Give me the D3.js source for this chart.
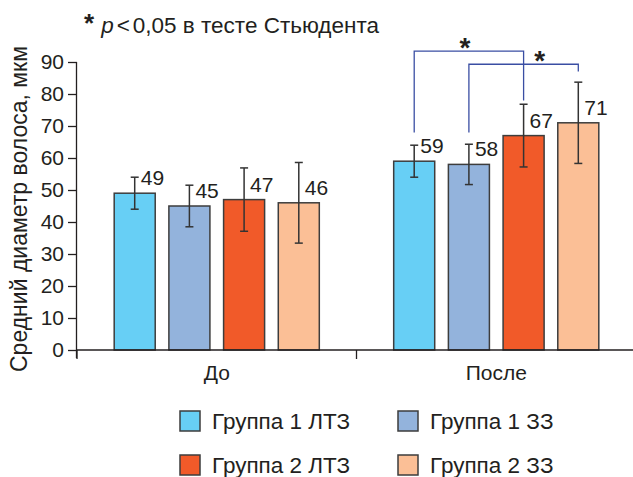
<!DOCTYPE html>
<html>
<head>
<meta charset="utf-8">
<script src="https://cdn.jsdelivr.net/npm/d3@7"></script>
<style>
  body { margin: 0; background: #fff; }
  text { font-family: 'Liberation Sans', Arial, sans-serif; fill: #231f20; }
</style>
</head>
<body>
<div id="graf"></div>
<script>
// datos
const periodos = ['До', 'После']
const grupos = ['Группа 1 ЛТЗ', 'Группа 1 ЗЗ', 'Группа 2 ЛТЗ', 'Группа 2 ЗЗ']
const mediasAntes = [49, 45, 47, 46]
const mediasDespues = [59, 58, 67, 71]
const errAntes = [5, 6.5, 9.9, 12.6]
const errDespues = [5, 6.3, 9.8, 12.7]
const yTicks = [0, 10, 20, 30, 40, 50, 60, 70, 80, 90]
const colores = ['#67cff5', '#93b3dc', '#f15a29', '#fbbf96']
// corchetes de significancia (periodo 'После'): barras unidas, altura y pies en unidades del eje
const sigPares = [[0, 2], [1, 3]]
const sigAltura = [93.4, 89.3]
const sigPies = [[68, 78], [68, 87]]

const anchoTotal = 633
const altoTotal = 477

const svg = d3.select('#graf')
  .append('svg')
  .attr('width', anchoTotal)
  .attr('height', altoTotal)

const margin = { top: 62, left: 77 }

const y = d3.scaleLinear()
  .domain([0, 90])
  .range([350, 62])

const x = d3.scaleBand()
  .domain(periodos)
  .range([77, 636])

const xSub = d3.scaleBand()
  .domain(d3.range(grupos.length))
  .range([0, x.bandwidth()])
  .paddingInner(0.25)
  .paddingOuter(0.68)

const datos = []
periodos.forEach((p, i) => {
  const medias = i === 0 ? mediasAntes : mediasDespues
  const errs = i === 0 ? errAntes : errDespues
  grupos.forEach((g, j) => {
    datos.push({ periodo: p, grupo: j, valor: medias[j], err: errs[j] })
  })
})

const cx = d => x(d.periodo) + xSub(d.grupo) + xSub.bandwidth() / 2

// eje Y
svg.append('g')
  .attr('transform', `translate(${margin.left}, 0)`)
  .call(d3.axisLeft(y).tickValues(yTicks).tickSize(9).tickPadding(4))
  .call(g => g.select('.domain').attr('d', `M-0.5,${y(90)}V${y(0) + 8}`))
  .call(g => g.selectAll('line, path').attr('stroke', '#231f20').attr('stroke-width', 1.3))
  .call(g => g.selectAll('text')
    .style('font-family', "'Liberation Sans', Arial, sans-serif")
    .style('font-size', '21px')
    .attr('fill', '#231f20'))

svg.append('text')
  .attr('transform', `translate(27, ${(y(0) + y(90)) / 2 + 3}) rotate(-90)`)
  .attr('text-anchor', 'middle')
  .style('font-size', '23px')
  .text('Средний диаметр волоса, мкм')

// barras
svg.selectAll('rect.barra')
  .data(datos)
  .enter()
  .append('rect')
  .attr('class', 'barra')
  .attr('x', d => x(d.periodo) + xSub(d.grupo))
  .attr('width', xSub.bandwidth())
  .attr('y', d => y(d.valor))
  .attr('height', d => y(0) - y(d.valor))
  .attr('fill', d => colores[d.grupo])
  .attr('stroke', '#3d3d3d')
  .attr('stroke-width', 1.5)

// eje X
svg.append('line')
  .attr('x1', 77).attr('x2', anchoTotal)
  .attr('y1', y(0)).attr('y2', y(0))
  .attr('stroke', '#231f20').attr('stroke-width', 1.3)

const bordes = [x(periodos[0]), x(periodos[1]), x(periodos[1]) + x.bandwidth()]
svg.selectAll('line.tickx')
  .data(bordes)
  .enter()
  .append('line')
  .attr('x1', d => d).attr('x2', d => d)
  .attr('y1', y(0)).attr('y2', y(0) + 9)
  .attr('stroke', '#231f20').attr('stroke-width', 1.3)

svg.selectAll('text.periodo')
  .data(periodos)
  .enter()
  .append('text')
  .attr('x', d => x(d) + x.bandwidth() / 2)
  .attr('y', 380)
  .attr('text-anchor', 'middle')
  .style('font-size', '21px')
  .text(d => d)

// barras de error
const errG = svg.selectAll('g.err')
  .data(datos)
  .enter()
  .append('g')
  .attr('stroke', '#333')
  .attr('stroke-width', 1.5)

errG.append('line')
  .attr('x1', cx).attr('x2', cx)
  .attr('y1', d => y(d.valor + d.err))
  .attr('y2', d => y(d.valor - d.err))
errG.append('line')
  .attr('x1', d => cx(d) - 4).attr('x2', d => cx(d) + 4)
  .attr('y1', d => y(d.valor + d.err)).attr('y2', d => y(d.valor + d.err))
errG.append('line')
  .attr('x1', d => cx(d) - 4).attr('x2', d => cx(d) + 4)
  .attr('y1', d => y(d.valor - d.err)).attr('y2', d => y(d.valor - d.err))

// etiquetas de valor
svg.selectAll('text.valor')
  .data(datos)
  .enter()
  .append('text')
  .attr('x', d => cx(d) + 6)
  .attr('y', d => y(d.valor) - 8)
  .style('font-size', '21px')
  .text(d => d.valor)

// corchetes
sigPares.forEach((par, i) => {
  const d0 = datos.find(d => d.periodo === 'После' && d.grupo === par[0])
  const d1 = datos.find(d => d.periodo === 'После' && d.grupo === par[1])
  const x0 = cx(d0)
  const x1 = cx(d1)
  const yt = y(sigAltura[i])
  svg.append('path')
    .attr('d', `M${x0},${y(sigPies[i][0])}V${yt}H${x1}V${y(sigPies[i][1])}`)
    .attr('fill', 'none')
    .attr('stroke', '#3a4ea3')
    .attr('stroke-width', 1.3)
  svg.append('text')
    .attr('x', (x0 + x1) / 2 + (i === 0 ? -4 : 16))
    .attr('y', yt + 6)
    .attr('text-anchor', 'middle')
    .style('font-size', '28px')
    .style('font-weight', 'bold')
    .text('*')
})

// nota superior
const nota = svg.append('text')
  .attr('x', 84)
  .attr('y', 33)
  .style('font-size', '22.5px')
nota.append('tspan').attr('dy', -1).style('font-size', '26px').style('font-weight', 'bold').text('*')
nota.append('tspan').attr('dx', 7).attr('dy', 1).style('font-style', 'italic').text('p')
nota.append('tspan').attr('dx', 3).text('<')
nota.append('tspan').attr('dx', 3).text('0,05 в тесте Стьюдента')

// leyenda
const leyenda = svg.selectAll('g.leyenda')
  .data(grupos)
  .enter()
  .append('g')
  .attr('transform', (d, i) => `translate(${i % 2 === 0 ? 180 : 398}, ${i < 2 ? 411 : 455})`)

leyenda.append('rect')
  .attr('width', 20)
  .attr('height', 20)
  .attr('fill', (d, i) => colores[i])
  .attr('stroke', '#3d3d3d')
  .attr('stroke-width', 1.5)

leyenda.append('text')
  .attr('x', 32)
  .attr('y', 18)
  .style('font-size', '22.5px')
  .text(d => d)
</script>
</body>
</html>
